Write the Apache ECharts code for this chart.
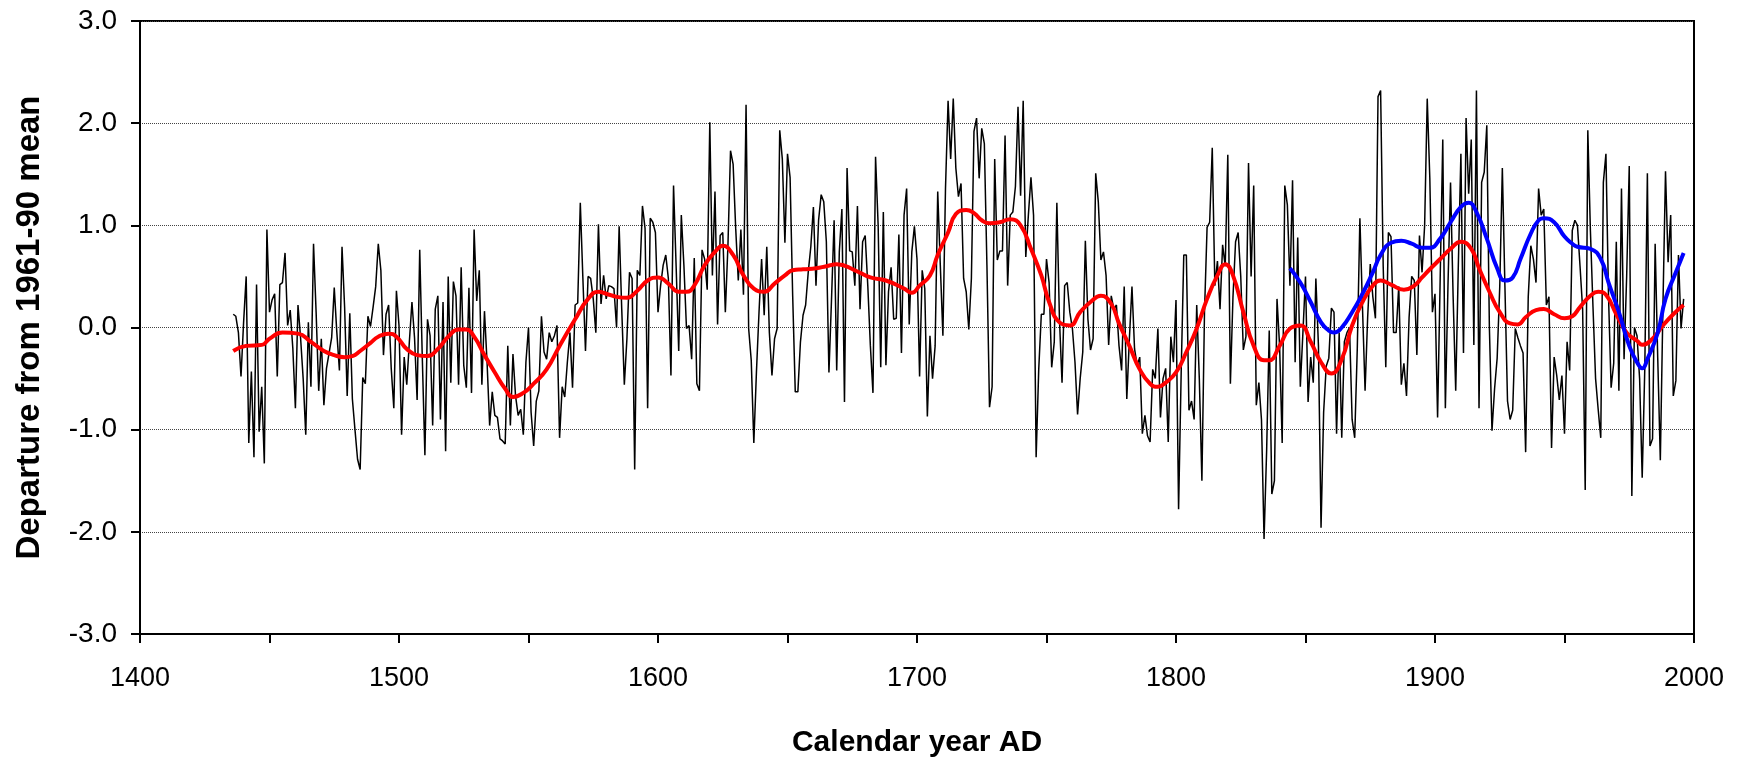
<!DOCTYPE html>
<html>
<head>
<meta charset="utf-8">
<script src="https://cdn.jsdelivr.net/npm/echarts@6/dist/echarts.min.js"></script>
<style>
html,body{margin:0;padding:0;background:#fff;}
#chart{width:1741px;height:759px;}
</style>
</head>
<body>
<div id="chart"></div>
<script>
// Annual reconstruction (black), first year:
const startYear = 1436;
const reconValues = [
 0.13, 0.11,-0.05,-0.48, 0.05, 0.50,-1.13,-0.43,-1.27, 0.42, // 1436-1445
-1.02,-0.58,-1.33, 0.96, 0.15, 0.27, 0.33,-0.48, 0.42, 0.44, // 1446-1455
 0.73, 0.02, 0.17,-0.20,-0.79, 0.22,-0.10,-0.50,-1.05, 0.05, // 1456-1465
-0.58, 0.82, 0.15,-0.62,-0.11,-0.76,-0.40,-0.25,-0.10, 0.39, // 1466-1475
-0.05,-0.42, 0.79, 0.20,-0.67, 0.14,-0.70,-1.00,-1.29,-1.39, // 1476-1485
-0.49,-0.55, 0.11, 0.01, 0.20, 0.40, 0.82, 0.56,-0.27, 0.13, // 1486-1495
 0.22,-0.40,-0.79, 0.36, 0.02,-1.05,-0.29,-0.56,-0.14, 0.25, // 1496-1505
-0.10,-0.71, 0.76,-0.30,-1.25, 0.08,-0.08,-0.96, 0.18, 0.31, // 1506-1515
-0.90, 0.25,-1.21, 0.50,-0.54, 0.45, 0.31,-0.56, 0.59,-0.37, // 1516-1525
-0.59, 0.39,-0.64, 0.96, 0.26, 0.56,-0.56, 0.16,-0.34,-0.96, // 1526-1535
-0.63,-0.86,-0.88,-1.09,-1.11,-1.14,-0.18,-0.96,-0.26,-0.67, // 1536-1545
-0.86,-0.80,-1.05,-0.34, 0.00,-0.83,-1.16,-0.72,-0.62, 0.11, // 1546-1555
-0.24,-0.31,-0.05,-0.14,-0.08, 0.02,-1.08,-0.58,-0.68,-0.34, // 1556-1565
-0.05,-0.59, 0.22, 0.24, 1.22, 0.48,-0.23, 0.50, 0.48, 0.28, // 1566-1575
-0.05, 1.01, 0.23, 0.51, 0.28, 0.41, 0.40, 0.38, 0.00, 0.99, // 1576-1585
 0.18,-0.56,-0.11, 0.54, 0.48,-1.39, 0.56, 0.51, 1.19, 0.97, // 1586-1595
-0.79, 1.07, 1.03, 0.93, 0.15, 0.41, 0.61, 0.71, 0.48,-0.47, // 1596-1605
 1.39, 0.60,-0.23, 1.10, 0.61,-0.01, 0.02,-0.31, 0.68,-0.55, // 1606-1615
-0.62, 0.76, 0.67, 0.37, 2.01, 0.51, 1.33, 0.03, 0.90, 0.93, // 1616-1625
 0.15, 0.80, 1.73, 1.60, 0.97, 0.46, 0.96, 0.32, 2.18,-0.01, // 1626-1635
-0.32,-1.13,-0.44, 0.15, 0.67, 0.12, 0.79,-0.05,-0.47,-0.11, // 1636-1645
-0.01, 1.93, 1.65, 0.83, 1.70, 1.47, 0.31,-0.63,-0.63,-0.14, // 1646-1655
 0.12, 0.22, 0.54, 0.79, 1.18, 0.41, 1.05, 1.30, 1.23, 0.84, // 1656-1665
-0.44, 0.28, 1.05,-0.42, 0.74, 1.16,-0.73, 1.56, 0.75, 0.74, // 1666-1675
 0.41, 1.19, 0.18, 0.84, 0.90, 0.41,-0.18,-0.64, 1.67, 1.00, // 1676-1685
-0.39, 1.13,-0.37, 0.35, 0.59, 0.08, 0.09, 0.91,-0.25, 1.10, // 1686-1695
 1.36, 0.03, 0.74, 0.99, 0.67,-0.48, 0.56, 0.38,-0.87,-0.08, // 1696-1705
-0.50,-0.18, 1.33, 0.61,-0.08, 1.36, 2.22, 1.65, 2.24, 1.56, // 1706-1715
 1.28, 1.41, 0.48, 0.35,-0.02, 0.48, 1.92, 2.05, 1.46, 1.95, // 1716-1725
 1.80, 0.61,-0.78,-0.58, 1.65, 0.66, 0.75, 0.75, 1.88, 0.41, // 1726-1735
 1.10, 1.13, 1.38, 2.16, 1.29, 2.22, 0.69, 1.10, 1.47, 1.10, // 1736-1745
-1.27,-0.41, 0.13, 0.13, 0.67, 0.44,-0.39,-0.14, 1.22, 0.08, // 1746-1755
-0.54, 0.41, 0.44, 0.15,-0.01,-0.34,-0.85,-0.50,-0.24, 0.85, // 1756-1765
 0.08,-0.22,-0.11, 1.51, 1.23, 0.66, 0.74, 0.51,-0.17, 0.31, // 1766-1775
 0.18, 0.22,-0.18,-0.42, 0.40,-0.70,-0.11, 0.40,-0.21,-0.37, // 1776-1785
-0.29,-1.04,-0.86,-1.06,-1.12,-0.41,-0.50,-0.01,-0.88,-0.50, // 1786-1795
-0.40,-1.12,-0.09,-0.34, 0.27,-1.78,-0.44, 0.71, 0.71,-0.81, // 1796-1805
-0.72,-0.90, 0.22,-0.50,-1.50, 0.15, 0.98, 1.03, 1.76, 0.41, // 1806-1815
 0.65, 0.18, 0.81, 0.60, 1.69,-0.55, 0.30, 0.84, 0.93, 0.50, // 1816-1825
-0.22,-0.09, 1.61, 0.50, 1.39,-0.76,-0.54,-0.90,-2.07,-1.20, // 1826-1835
-0.03,-1.63,-1.50, 0.28,-0.18,-1.13, 1.39, 1.20, 0.41, 1.44, // 1836-1845
-0.34, 0.88,-0.58,-0.05, 0.50,-0.73,-0.29,-0.54, 0.48,-0.18, // 1846-1855
-1.96,-0.83,-0.38,-0.30, 0.19, 0.15,-1.04,-0.05,-1.08,-0.14, // 1856-1865
-0.05, 0.00,-0.90,-1.08,-0.20, 1.07, 0.20,-0.62, 0.10, 0.62, // 1866-1875
 0.30, 0.09, 2.26, 2.32, 0.60,-0.39, 0.93, 0.89,-0.05,-0.05, // 1876-1885
 0.40,-0.56,-0.35,-0.67, 0.10, 0.50, 0.46,-0.27, 0.90, 0.54, // 1886-1895
 1.00, 2.24, 1.46, 0.15, 0.33,-0.88, 0.48, 1.84,-0.79, 0.40, // 1896-1905
 1.42, 0.30,-0.62, 0.60, 1.70,-0.25, 2.05, 1.31, 1.84,-0.17, // 1906-1915
 2.32,-0.79, 1.42, 1.52, 1.98, 0.00,-1.01,-0.60,-0.30, 0.40, // 1916-1925
 1.56, 0.40,-0.72,-0.90,-0.81,-0.01,-0.10,-0.18,-0.25,-1.22, // 1926-1935
 0.30, 0.80, 0.67, 0.44, 1.36, 1.10, 1.16, 0.22, 0.30,-1.18, // 1936-1945
-0.29,-0.47,-0.71,-0.47,-1.04,-0.14,-0.42, 0.95, 1.05, 1.00, // 1946-1955
 0.60, 0.18,-1.59, 1.93, 0.95, 0.20,-0.50,-0.80,-1.08, 1.42, // 1956-1965
 1.70, 0.30,-0.59,-0.35, 0.84,-0.62, 1.36,-0.31, 0.50, 1.58, // 1966-1975
-1.65, 0.00,-0.08,-0.50,-1.47,-0.40, 1.51,-1.16,-1.09, 0.82, // 1976-1985
-0.30,-1.30, 0.20, 1.53, 0.64, 1.10,-0.67,-0.52, 0.71,-0.01, // 1986-1995
 0.28                                                          // 1996
];

// Smoothed reconstruction (red)
const smoothYears = [1436,1441,1447,1450,1455,1461,1466,1471,1475,1479,1482,1485,1489,1492,1496,1499,1503,1507,1511,1515,1519,1523,1526,1529,1533,1537,1541,1544,1548,1552,1557,1562,1568,1573,1577,1580,1584,1588,1592,1596,1600,1604,1608,1611,1614,1618,1622,1625,1629,1633,1637,1641,1645,1649,1652,1656,1661,1665,1669,1676,1682,1688,1695,1698,1701,1705,1708,1712,1715,1719,1722,1725,1728,1732,1736,1740,1744,1748,1751,1755,1759,1763,1767,1771,1775,1778,1782,1786,1790,1793,1796,1800,1804,1808,1812,1816,1819,1822,1826,1830,1834,1836,1840,1844,1848,1852,1856,1860,1864,1868,1872,1876,1879,1883,1888,1892,1895,1898,1902,1906,1910,1914,1917,1921,1925,1929,1932,1935,1939,1942,1946,1950,1953,1956,1960,1963,1966,1970,1974,1978,1980,1984,1988,1992,1996];
const smoothValues = [-0.23,-0.18,-0.17,-0.11,-0.05,-0.06,-0.14,-0.23,-0.27,-0.29,-0.28,-0.23,-0.15,-0.09,-0.06,-0.09,-0.21,-0.27,-0.28,-0.21,-0.09,-0.02,-0.02,-0.09,-0.27,-0.44,-0.60,-0.68,-0.64,-0.55,-0.41,-0.18,0.08,0.28,0.35,0.33,0.30,0.29,0.36,0.46,0.49,0.43,0.35,0.35,0.41,0.61,0.74,0.80,0.71,0.51,0.38,0.35,0.43,0.51,0.56,0.57,0.58,0.60,0.62,0.56,0.49,0.46,0.38,0.34,0.41,0.51,0.71,0.93,1.11,1.15,1.12,1.05,1.02,1.03,1.06,1.00,0.77,0.51,0.25,0.05,0.02,0.15,0.25,0.31,0.23,0.04,-0.18,-0.41,-0.55,-0.58,-0.54,-0.44,-0.24,-0.01,0.28,0.51,0.62,0.51,0.15,-0.18,-0.32,-0.32,-0.18,-0.01,0.02,-0.14,-0.34,-0.45,-0.31,0.02,0.25,0.41,0.46,0.42,0.37,0.41,0.49,0.57,0.67,0.77,0.84,0.77,0.58,0.35,0.15,0.04,0.03,0.10,0.17,0.18,0.13,0.09,0.11,0.20,0.31,0.35,0.32,0.13,-0.05,-0.13,-0.17,-0.11,0.02,0.13,0.22];

// Instrumental smoothed (blue)
const instYears = [1844,1848,1852,1856,1859,1861,1864,1868,1872,1876,1879,1883,1887,1891,1895,1898,1902,1906,1910,1913,1916,1920,1924,1927,1930,1933,1937,1940,1942,1946,1950,1953,1955,1960,1964,1967,1971,1975,1978,1980,1982,1986,1989,1993,1996];
const instValues = [0.58,0.44,0.25,0.05,-0.03,-0.05,0.00,0.15,0.33,0.54,0.71,0.83,0.85,0.82,0.78,0.78,0.87,1.03,1.18,1.22,1.13,0.87,0.58,0.46,0.49,0.67,0.92,1.05,1.07,1.03,0.89,0.82,0.79,0.77,0.67,0.44,0.15,-0.18,-0.34,-0.40,-0.31,-0.05,0.28,0.54,0.73];

// Axis ticks
const xMin = 1400, xMax = 2000, xStep = 50;
const yMin = -3, yMax = 3, yStep = 1;

const FONT = 'Liberation Sans, Arial, sans-serif';
const chart = echarts.init(document.getElementById('chart'), null, {renderer: 'canvas'});
chart.setOption({
  animation: false,
  backgroundColor: '#ffffff',
  grid: {left: 140, right: 47, top: 21, bottom: 125, containLabel: false, outerBoundsMode: 'none',
         show: true, borderColor: '#000', borderWidth: 2, backgroundColor: 'transparent'},
  xAxis: {
    type: 'value', min: xMin, max: xMax, interval: xStep,
    axisLine: {show: true, onZero: false, lineStyle: {color: '#000', width: 2}},
    axisTick: {show: true, length: 9, lineStyle: {color: '#000', width: 2}},
    axisLabel: {formatter: v => (v % 100 === 0 ? String(v) : ''), fontSize: 27, color: '#000', fontFamily: FONT, margin: 31},
    splitLine: {show: false},
    name: 'Calendar year AD', nameLocation: 'middle', nameGap: 94,
    nameTextStyle: {fontWeight: 'bold', fontSize: 30, color: '#000', fontFamily: FONT}
  },
  yAxis: {
    type: 'value', min: yMin, max: yMax, interval: yStep,
    axisLine: {show: true, onZero: false, lineStyle: {color: '#000', width: 2}},
    axisTick: {show: true, length: 9, lineStyle: {color: '#000', width: 2}},
    axisLabel: {formatter: v => v.toFixed(1), fontSize: 28, color: '#000', fontFamily: FONT, margin: 23},
    splitLine: {show: true, lineStyle: {type: 'dotted', color: '#444', width: 1}},
    name: 'Departure from 1961-90 mean', nameLocation: 'middle', nameGap: 94, nameRotate: 90,
    nameTextStyle: {fontWeight: 'bold', fontSize: 33, color: '#000', fontFamily: FONT}
  },
  series: [
    {type: 'line', data: reconValues.map((v, i) => [startYear + i, v]), showSymbol: false, symbol: 'none',
     lineStyle: {color: '#000', width: 1.5}, z: 2},
    {type: 'line', data: smoothYears.map((y, i) => [y, smoothValues[i]]), showSymbol: false, symbol: 'none', smooth: true,
     lineStyle: {color: '#ff0000', width: 4}, z: 3},
    {type: 'line', data: instYears.map((y, i) => [y, instValues[i]]), showSymbol: false, symbol: 'none', smooth: true,
     lineStyle: {color: '#0000ff', width: 4}, z: 4}
  ]
});
</script>
</body>
</html>
